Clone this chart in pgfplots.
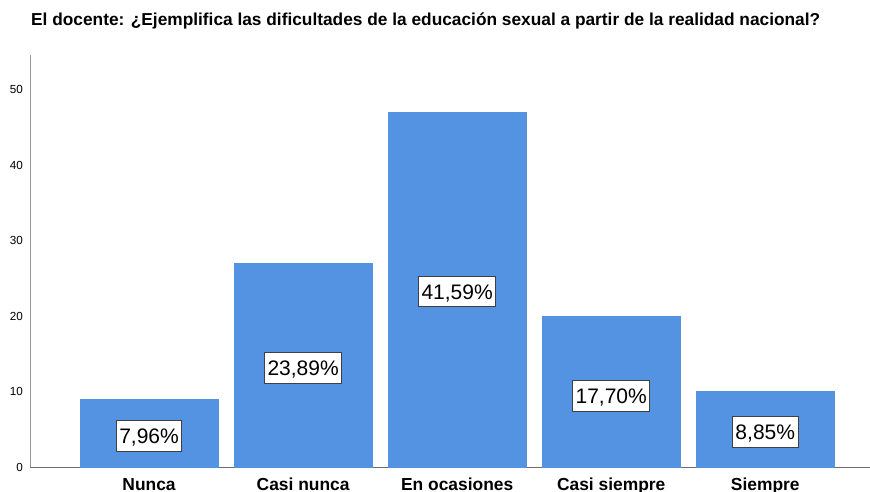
\documentclass[border=0pt]{standalone}
\usepackage{fontspec}
\setmainfont{Liberation Sans}
\usepackage{pgfplots}
\pgfplotsset{compat=1.18}
\definecolor{barblue}{RGB}{84,147,226}
\definecolor{ygray}{RGB}{150,150,150}
\definecolor{xgray}{RGB}{110,110,110}
\begin{document}
\begin{tikzpicture}
\begin{axis}[name=ax, scale only axis, width=840bp, height=412bp,
  xmin=-0.773, xmax=4.68, ymin=0, ymax=54.6,
  axis lines=left,
  x axis line style={xgray, line width=0.9bp, -},
  y axis line style={ygray, line width=0.9bp, -},
  xtick={0,1,2,3,4},
  xticklabels={Nunca,Casi nunca,En ocasiones,Casi siempre,Siempre},
  ytick={0,10,20,30,40,50},
  major tick length=0pt,
  xticklabel style={font=\fontsize{17.4bp}{20bp}\selectfont\bfseries, anchor=base, yshift=-23bp},
  yticklabel style={font=\fontsize{11.7bp}{13bp}\selectfont, anchor=east, inner sep=0pt, xshift=-7bp},
  /pgf/number format/assume math mode=true,
  clip=false,
]
\addplot[ybar, bar width=138bp, fill=barblue, draw=barblue] coordinates {(0,9) (1,27) (2,47) (3,20) (4,10)};
\addplot[draw=none, mark=none, nodes near coords, point meta=explicit symbolic,
  every node near coord/.append style={anchor=center, fill=white, draw=black!75, line width=0.8bp,
    font=\fontsize{21bp}{24bp}\selectfont, inner xsep=3bp, inner ysep=7.5bp,
    text height=15.5bp, text depth=0bp}]
  coordinates {(0,4.15) [7,96\%] (1,13.1) [23,89\%] (2,23.27) [41,59\%] (3,9.4) [17,70\%] (4,4.64) [8,85\%]};
\end{axis}
\node[anchor=base west, inner sep=0pt, font=\fontsize{17.3bp}{20bp}\selectfont\bfseries] at ([xshift=1bp,yshift=29bp]ax.north west) {El docente: ¿Ejemplifica las dificultades de la educación sexual a partir de la realidad nacional?};
\pgfresetboundingbox
\path ([xshift=-30bp,yshift=-25bp]ax.south west) rectangle ([yshift=55bp]ax.north east);
\end{tikzpicture}
\end{document}
